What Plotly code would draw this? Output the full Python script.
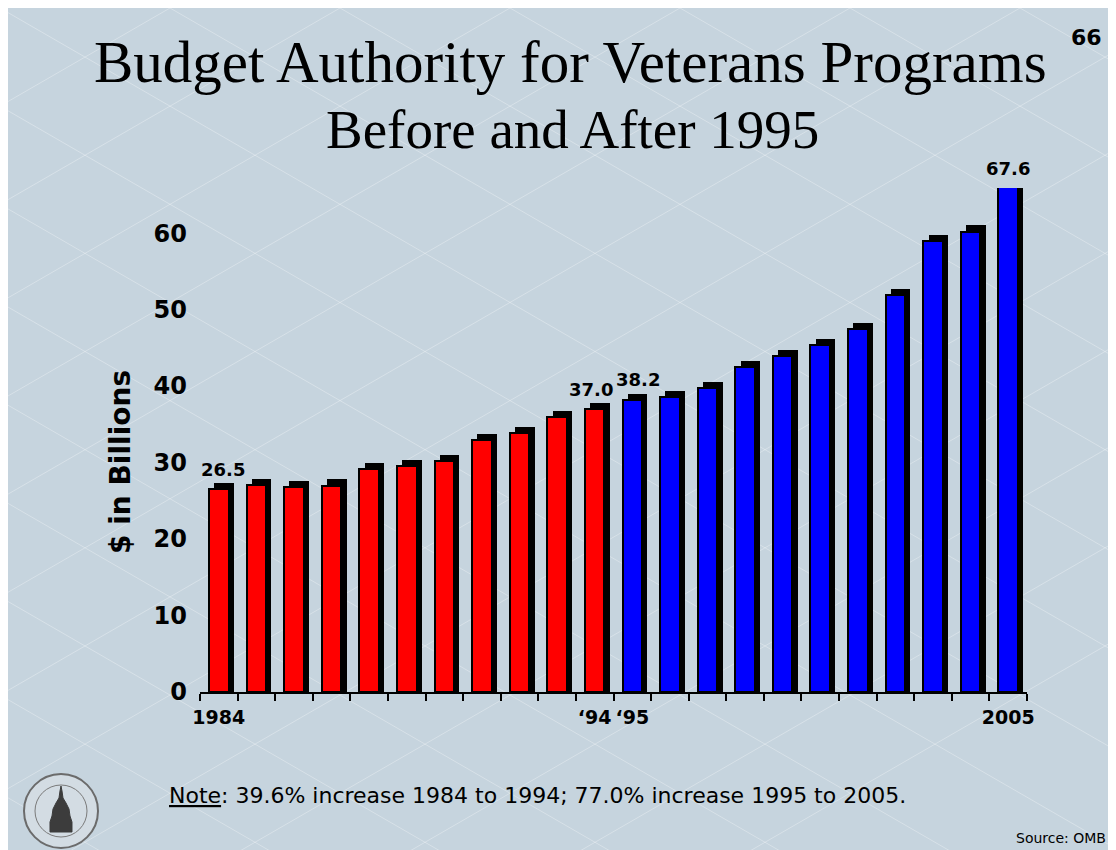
import math
import plotly.graph_objects as go

# ---------------- data ----------------
years = list(range(1984, 2006))
budget = [26.5, 27.1, 26.8, 27.0, 29.2, 29.6, 30.2, 33.0, 33.9, 35.9, 37.0,
          38.2, 38.6, 39.7, 42.5, 43.9, 45.4, 47.5, 51.9, 59.0, 60.2, 67.6]
split_year = 1995                      # first year of the "after" period
labelled_years = [1984, 1994, 1995, 2005]
tick_years = [1984, 1994, 1995, 2005]
tick_text = ["1984", "\u201894", "\u201895", "2005"]
y_ticks = [0, 10, 20, 30, 40, 50, 60]

title_1 = "Budget Authority for Veterans Programs"
title_2 = "Before and After 1995"
y_title = "$ in Billions"
note = "<u>Note</u>: 39.6% increase 1984 to 1994; 77.0% increase 1995 to 2005."
source = "Source: OMB"
page_no = "66"

# ---------------- layout geometry (screen pixels) ----------------
OFF = 8                     # page body margin
W, H = 1116, 850            # figure size
L, R, T, B = 200, 1027, 188, 692
YMAX = 65.9
BG = "#c6d4de"
RED, BLUE = "#ff0000", "#0000ff"
label_xshift = {1984: 4, 1994: -4, 1995: 6, 2005: 0}


def fx(px):
    return (px - L) / (R - L)


def fy(py):
    return (B - py) / (B - T)


colors = [RED if y < split_year else BLUE for y in years]

fig = go.Figure()
# 3-D style depth (black block shifted up/right)
fig.add_trace(go.Bar(
    x=years, y=[v + 0.8 for v in budget], width=0.52, offset=-0.12,
    marker=dict(color="black", line=dict(width=0)),
    hoverinfo="skip", showlegend=False))
# front faces
fig.add_trace(go.Bar(
    x=years, y=budget, width=0.52, offset=-0.26,
    marker=dict(color=colors, line=dict(color="black", width=2)),
    showlegend=False))


def txt(x, y, text, size, family="DejaVu Sans", weight="normal", xanchor="center", angle=0):
    return dict(x=fx(x), y=fy(y), xref="paper", yref="paper", text=text, showarrow=False,
                xanchor=xanchor, yanchor="middle", textangle=angle,
                font=dict(family=family, size=size, color="black", weight=weight))


annotations = []
for yr, v in zip(years, budget):
    if yr in labelled_years:
        annotations.append(dict(
            x=yr, y=min(v, YMAX), xref="x", yref="y", text=f"{v:.1f}",
            showarrow=False, xanchor="center", yanchor="middle", yshift=20,
            xshift=label_xshift[yr],
            font=dict(family="DejaVu Sans", size=18, color="black", weight="bold")))

annotations += [
    txt(570, 62, title_1, 59, family="Liberation Serif"),
    txt(572, 130, title_2, 55, family="Liberation Serif"),
    txt(120, 462, y_title, 28, weight="bold", angle=-90),
    txt(167, 795, note, 22, xanchor="left"),
    txt(1014, 838, source, 14, xanchor="left"),
    txt(1086, 38, page_no, 22, weight="bold"),
]

shapes = []
# faint diamond background pattern
slope = math.tan(math.radians(30))
for k in range(-8, 14):
    x0 = k * 170
    for s in (1, -1):
        xa, ya = x0, OFF
        xb, yb = x0 + s * (H) / slope, H + OFF
        shapes.append(dict(type="line", xref="paper", yref="paper",
                           x0=fx(xa), y0=fy(ya), x1=fx(xb), y1=fy(yb),
                           line=dict(color="rgba(255,255,255,0.3)", width=1),
                           layer="below"))
# seal logo
shapes.append(dict(type="circle", xref="paper", yref="paper", x0=fx(24), x1=fx(98),
                   y0=fy(848), y1=fy(774), line=dict(color="#6b6b6b", width=2),
                   fillcolor="#d3dce3"))
shapes.append(dict(type="circle", xref="paper", yref="paper", x0=fx(35), x1=fx(87),
                   y0=fy(837), y1=fy(785), line=dict(color="#7a7a7a", width=1)))
dome = [(50, 832), (72, 832), (72, 822), (70, 816), (69, 809), (66, 803), (63, 798),
        (62, 791), (61, 786), (60, 791), (59, 798), (56, 803), (53, 809), (52, 816), (50, 822)]
path = "M " + " L ".join(f"{fx(a):.5f},{fy(b):.5f}" for a, b in dome) + " Z"
shapes.append(dict(type="path", xref="paper", yref="paper", path=path,
                   fillcolor="#3c3c3c", line=dict(color="#3c3c3c", width=1)))

fig.update_layout(
    width=W, height=H, autosize=False,
    margin=dict(l=L - OFF, r=W + OFF - R, t=T - OFF, b=H + OFF - B, pad=0),
    paper_bgcolor=BG, plot_bgcolor="rgba(0,0,0,0)",
    barmode="overlay", bargap=0,
    showlegend=False,
    annotations=annotations, shapes=shapes,
    xaxis=dict(
        range=[1983.5, 2005.5], tickmode="array", tickvals=tick_years, ticktext=tick_text,
        tickangle=0,
        ticks="", showgrid=False, zeroline=False, showline=True, linecolor="black",
        linewidth=2, automargin=False, ticklabelstandoff=7,
        tickfont=dict(family="DejaVu Sans", size=19, color="black", weight="bold"),
        minor=dict(tick0=1983.5, dtick=1, ticks="outside", ticklen=7, tickwidth=2,
                   tickcolor="black", showgrid=False),
    ),
    yaxis=dict(
        range=[0, YMAX], tickmode="array", tickvals=y_ticks, ticks="", showgrid=False,
        zeroline=False, showline=False, automargin=False, ticklabelstandoff=12,
        tickfont=dict(family="DejaVu Sans", size=24, color="black", weight="bold"),
    ),
)

fig.write_html("out.html",
               post_script="document.documentElement.style.overflow='hidden';"
                           "document.body.style.overflow='hidden';")
